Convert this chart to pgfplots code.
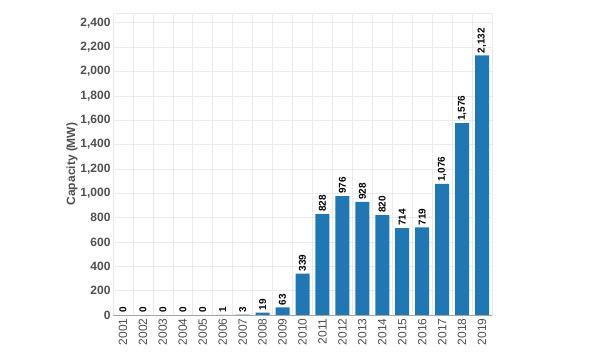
\documentclass[border=0pt]{standalone}
\usepackage{pgfplots}
\pgfplotsset{compat=1.18}
\usepackage{fontspec}
\setmainfont{Liberation Sans}
\definecolor{barblue}{RGB}{31,119,180}
\definecolor{gridc}{RGB}{235,235,235}
\definecolor{tickc}{RGB}{80,80,80}
\begin{document}
\begin{tikzpicture}
\begin{axis}[
  name=main,
  scale only axis, width=379pt, height=302pt,
  xmin=-0.5, xmax=18.5, ymin=0, ymax=2480,
  ytick={0,200,...,2400},
  xtick={0,...,18},
  xticklabels={2001,2002,2003,2004,2005,2006,2007,2008,2009,2010,2011,2012,2013,2014,2015,2016,2017,2018,2019},
  minor xtick={-0.5,0.5,...,18.5},
  xmajorgrids=false, xminorgrids=true, ymajorgrids=true,
  grid style={draw=gridc, line width=0.6pt},
  minor grid style={draw=gridc, line width=0.6pt},
  axis line style={draw=gridc},
  major tick length=0pt, minor tick length=0pt,
  /pgf/number format/assume math mode=true,
  /pgf/number format/1000 sep={,},
  yticklabel style={font=\fontsize{12}{12}\selectfont\bfseries, text=tickc, xshift=1pt},
  xticklabel style={font=\fontsize{12}{12}\selectfont, text=tickc, rotate=90, anchor=east, xshift=0pt},
  ylabel={Capacity (MW)},
  ylabel style={font=\fontsize{12}{12}\selectfont\bfseries, text=tickc, yshift=-4pt},
  ybar, bar width=14pt,
  nodes near coords,
  nodes near coords style={font=\fontsize{10}{10}\selectfont\bfseries, text=black, rotate=90, anchor=west, inner sep=2pt, /pgf/number format/1000 sep={,}},
  every node near coord/.append style={/pgf/number format/assume math mode=true},
  clip=false,
]
\addplot[fill=barblue, draw=none] coordinates {
(0,0) (1,0) (2,0) (3,0) (4,0) (5,1) (6,3) (7,19) (8,63) (9,339)
(10,828) (11,976) (12,928) (13,820) (14,714) (15,719) (16,1076) (17,1576) (18,2132)
};
\draw[draw=gray!70, line width=0.6pt] (axis cs:-0.5,0) -- (axis cs:18.5,0);
\end{axis}
\path (main.south west) ++(-113pt,-45pt) rectangle ++(600pt,360pt);
\end{tikzpicture}
\end{document}
